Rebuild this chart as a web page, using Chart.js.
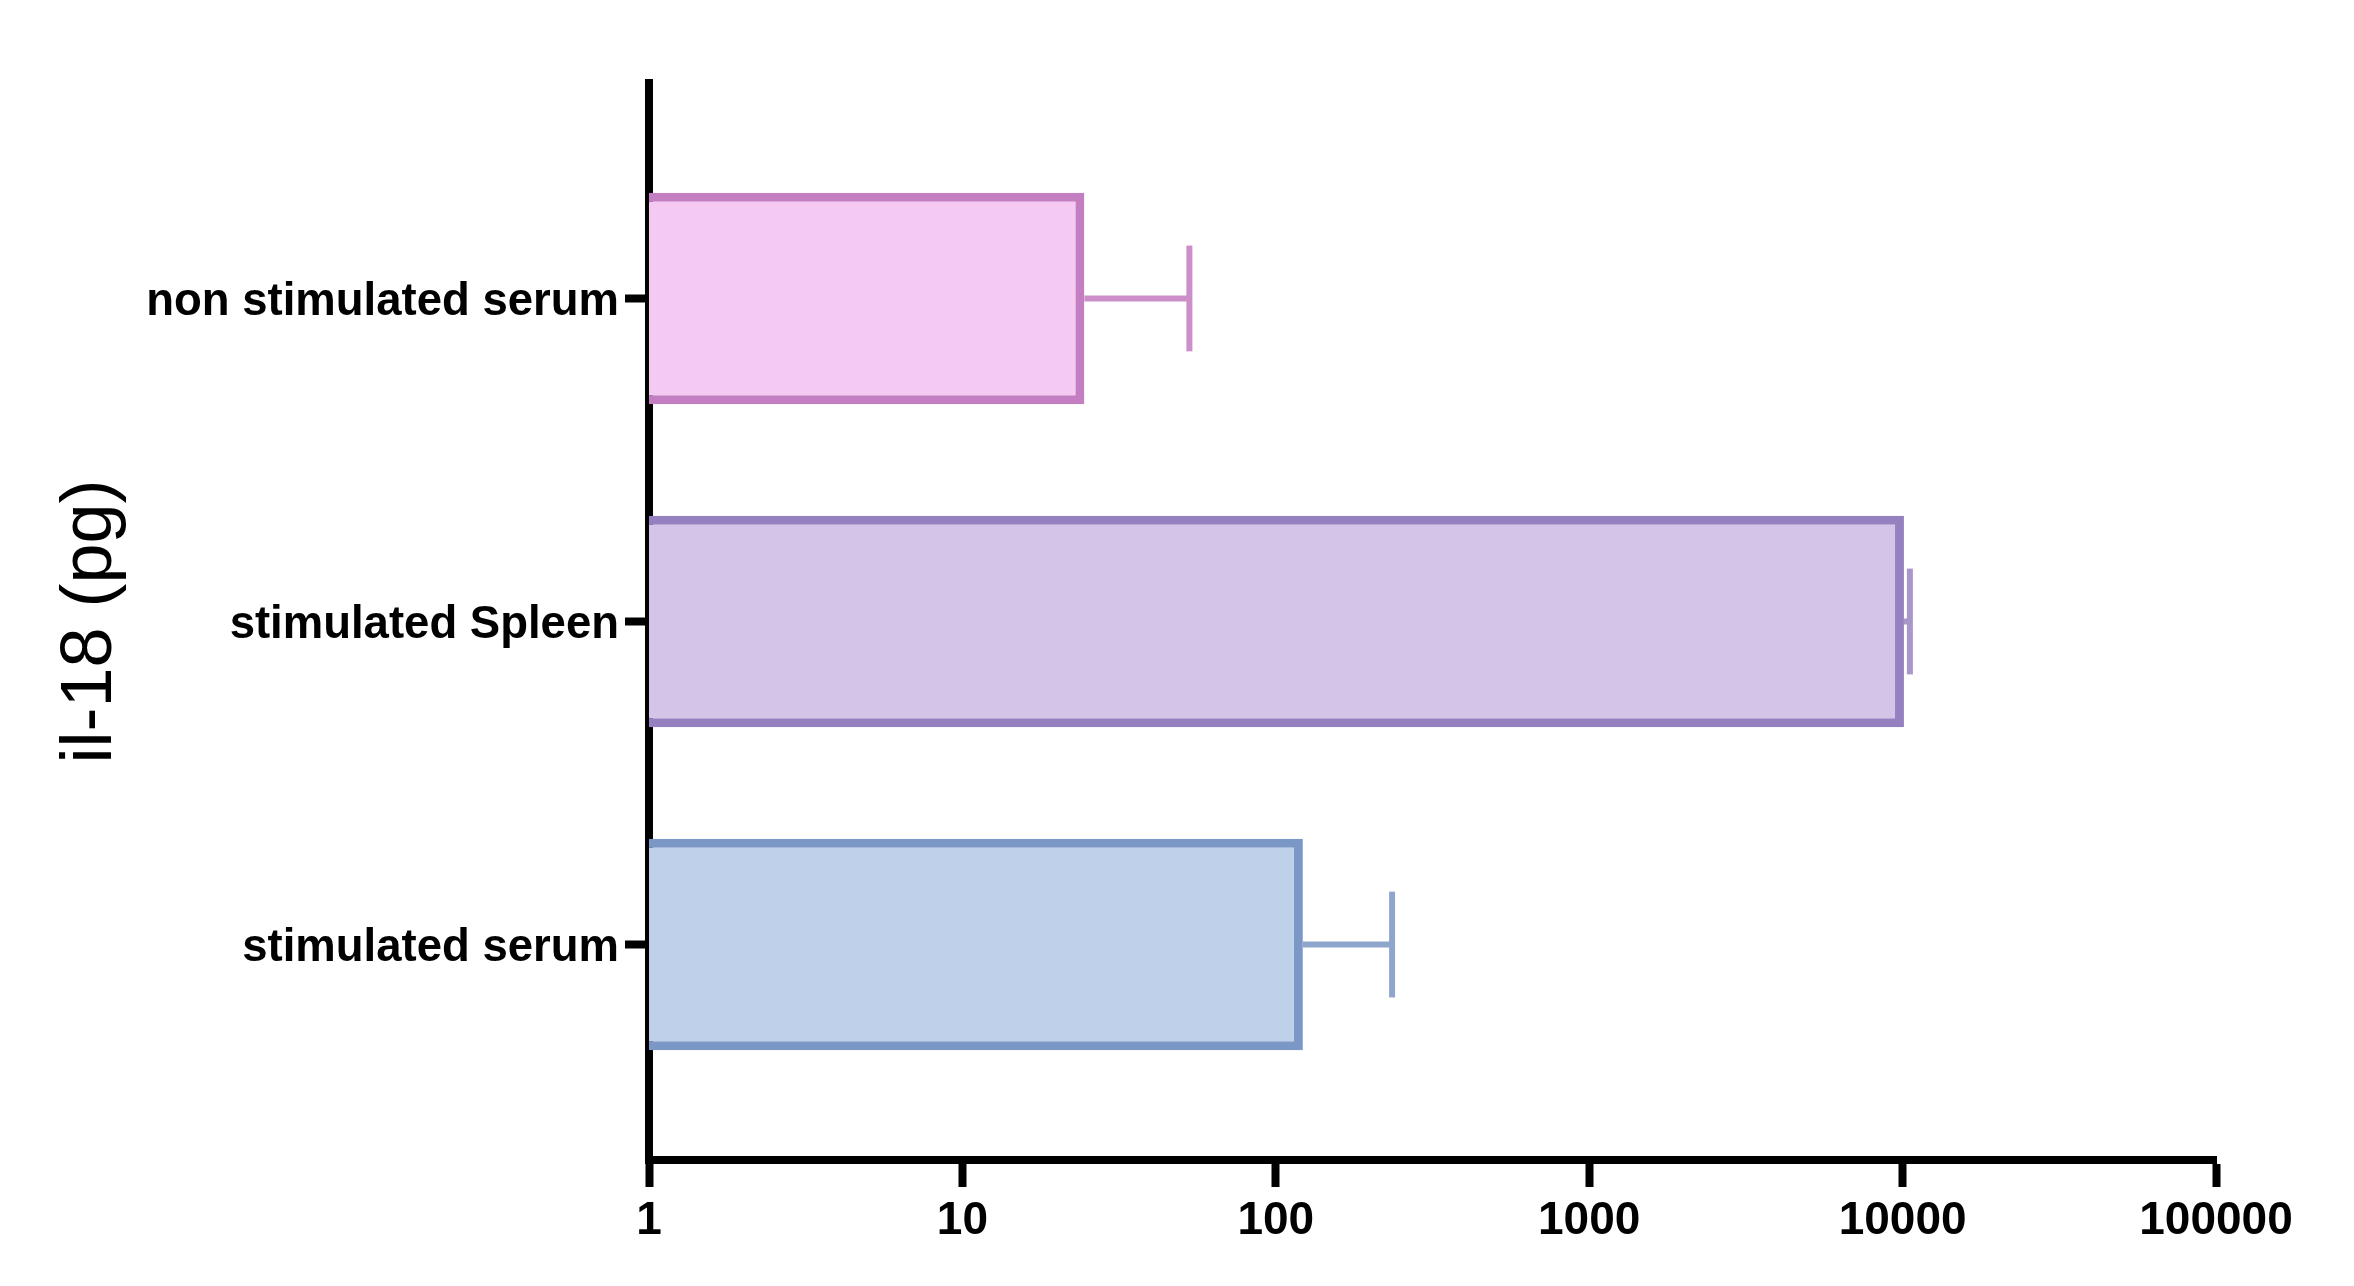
<!DOCTYPE html>
<html>
<head>
<meta charset="utf-8">
<style>
html,body{margin:0;padding:0;background:#fff;}
canvas{display:block;}
</style>
<script src="https://cdn.jsdelivr.net/npm/chart.js@4"></script>
</head>
<body>
<canvas id="c" width="2354" height="1286"></canvas>
<script>
const categories = ["non stimulated serum", "stimulated Spleen", "stimulated serum"];
const meanValues = [24.5, 10100, 122];
const errorHigh = [53, 10550, 235];
const xTickValues = [1, 10, 100, 1000, 10000, 100000];
const axisTitle = "il-18 (pg)";

const fillColors = ["#F4C9F2", "#D2C5E8", "#BFD1EA"];
const borderColors = ["#C47EC2", "#9581BF", "#7A97C5"];
const errorColors = ["#CC8FCA", "#A996CB", "#8FA6CC"];

const FONT = "'Liberation Sans', Arial, sans-serif";

const errorBarPlugin = {
  id: 'errorBars',
  afterDatasetsDraw(chart) {
    const meta = chart.getDatasetMeta(0);
    const xs = chart.scales.x;
    const ctx = chart.ctx;
    ctx.save();
    meta.data.forEach((bar, i) => {
      const xEnd = xs.getPixelForValue(errorHigh[i]);
      const y = bar.y;
      const half = bar.height * 0.25;
      ctx.strokeStyle = errorColors[i];
      ctx.lineWidth = 6;
      ctx.beginPath();
      ctx.moveTo(bar.x, y);
      ctx.lineTo(xEnd, y);
      ctx.stroke();
      ctx.beginPath();
      ctx.moveTo(xEnd, y - half);
      ctx.lineTo(xEnd, y + half);
      ctx.stroke();
    });
    ctx.restore();
  }
};

new Chart(document.getElementById('c'), {
  type: 'bar',
  data: {
    datasets: [{
      data: categories.map((c, i) => ({ x: meanValues[i], y: i })),
      backgroundColor: fillColors,
      borderColor: borderColors,
      borderWidth: 9,
      borderSkipped: 'start',
      categoryPercentage: 0.655,
      barPercentage: 1.0
    }]
  },
  options: {
    indexAxis: 'y',
    responsive: false,
    animation: false,
    devicePixelRatio: 1,
    layout: { padding: { left: 0, right: 138, top: 83, bottom: 0 } },
    plugins: { legend: { display: false }, tooltip: { enabled: false } },
    scales: {
      x: {
        type: 'logarithmic',
        min: 1,
        max: 100000,
        afterBuildTicks: s => { s.ticks = xTickValues.map(v => ({ value: v, major: true })); },
        afterFit: s => { s.height = 126; },
        grid: { drawOnChartArea: false, drawTicks: true, tickLength: 27, tickWidth: 8, tickColor: '#000' },
        border: { display: true, width: 8, color: '#000' },
        ticks: {
          autoSkip: false,
          maxRotation: 0,
          padding: 7,
          color: '#000',
          font: { family: FONT, size: 46, weight: 'bold' },
          callback: v => String(v)
        }
      },
      y: {
        type: 'linear',
        reverse: true,
        offset: false,
        min: -0.667,
        max: 2.667,
        afterBuildTicks: s => { s.ticks = categories.map((c, i) => ({ value: i })); },
        afterFit: s => { s.width = 649; },
        grid: { offset: false, drawOnChartArea: false, drawTicks: true, tickLength: 24, tickWidth: 8, tickColor: '#000' },
        border: { display: true, width: 8, color: '#000' },
        ticks: {
          autoSkip: false,
          padding: 6,
          labelOffset: 4,
          color: '#000',
          font: { family: FONT, size: 45.5, weight: 'bold' },
          callback: v => categories[v] !== undefined ? categories[v] : ''
        },
        title: {
          display: true,
          text: axisTitle,
          color: '#000',
          font: { family: FONT, size: 72, weight: 'normal' },
          padding: { top: 48, bottom: 0 }
        }
      }
    }
  },
  plugins: [errorBarPlugin]
});
</script>
</body>
</html>
